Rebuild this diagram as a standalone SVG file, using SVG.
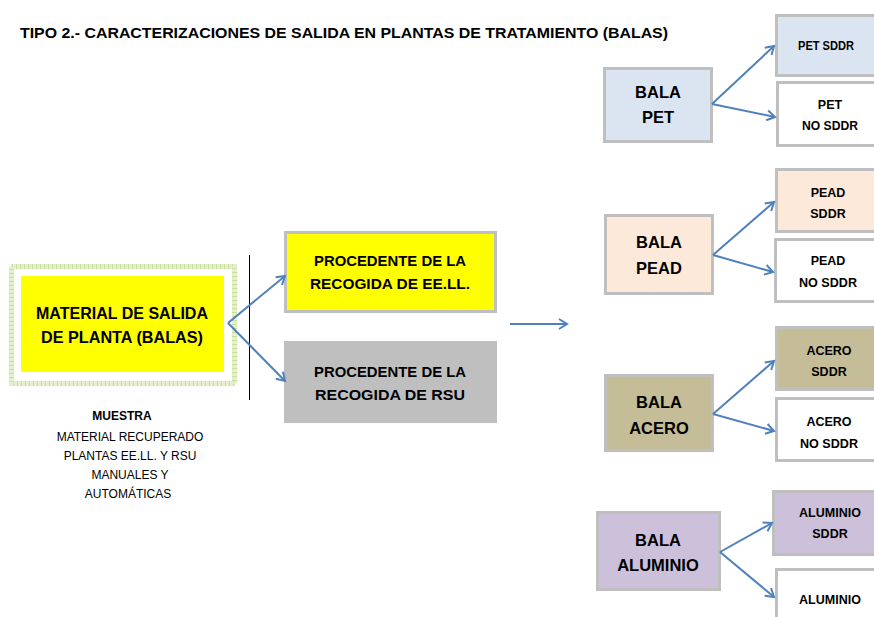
<svg xmlns="http://www.w3.org/2000/svg" width="874" height="617" viewBox="0 0 874 617">
<style>
text{font-family:"Liberation Sans",Arial,sans-serif;font-weight:bold;fill:#000;text-anchor:middle}
.box{stroke:#bfbfbf;stroke-width:3}
.big{font-size:16.5px}
.mid{font-size:15.5px}
.sm{font-size:12.5px}
.conn{stroke:#4f81bd;stroke-width:2;fill:none;marker-end:url(#ah)}
.note{font-size:12px;font-weight:normal}
</style>
<defs>
<marker id="ah" markerWidth="12" markerHeight="12" refX="9" refY="6" orient="auto" markerUnits="userSpaceOnUse">
<polyline points="1,1 9,6 1,11" fill="none" stroke="#4f81bd" stroke-width="2"/>
</marker>
</defs>
<rect width="874" height="617" fill="#fff"/>
<text x="20" y="38" style="text-anchor:start;font-size:15px" textLength="648" lengthAdjust="spacingAndGlyphs">TIPO 2.- CARACTERIZACIONES DE SALIDA EN PLANTAS DE TRATAMIENTO (BALAS)</text>

<g id="material">
<rect x="11.5" y="266.5" width="223" height="117" fill="none" stroke="#c9de9c" stroke-width="5" stroke-dasharray="2 2"/>
<rect x="11.5" y="266.5" width="223" height="117" fill="none" stroke="#e4efcc" stroke-width="5" stroke-dasharray="2 2" stroke-dashoffset="2"/>
<rect x="21" y="276" width="203" height="96" fill="#ffff00"/>
<text class="big" x="122" y="319" textLength="172" lengthAdjust="spacingAndGlyphs">MATERIAL DE SALIDA</text>
<text class="big" x="122" y="343" textLength="162" lengthAdjust="spacingAndGlyphs">DE PLANTA (BALAS)</text>
</g>
<g id="muestra">
<text x="122" y="420" style="font-size:12px">MUESTRA</text>
<text class="note" x="130" y="441">MATERIAL RECUPERADO</text>
<text class="note" x="130" y="460">PLANTAS EE.LL. Y RSU</text>
<text class="note" x="130" y="479">MANUALES Y</text>
<text class="note" x="128" y="498">AUTOMÁTICAS</text>
</g>
<g id="separator"><line x1="249.5" y1="255" x2="249.5" y2="400" stroke="#000" stroke-width="1"/></g>

<g id="eell">
<rect class="box" x="285.5" y="232.5" width="210" height="79" fill="#ffff00"/>
<text class="mid" x="390" y="266" textLength="152" lengthAdjust="spacingAndGlyphs">PROCEDENTE DE LA</text>
<text class="mid" x="390" y="289" textLength="160" lengthAdjust="spacingAndGlyphs">RECOGIDA DE EE.LL.</text>
</g>
<g id="rsu">
<rect class="box" x="285.5" y="342.5" width="210" height="79" fill="#bfbfbf" stroke="#bfbfbf"/>
<text class="mid" x="390" y="377" textLength="152" lengthAdjust="spacingAndGlyphs">PROCEDENTE DE LA</text>
<text class="mid" x="390" y="400" textLength="150" lengthAdjust="spacingAndGlyphs">RECOGIDA DE RSU</text>
</g>

<g id="bala-pet">
<rect class="box" x="604.5" y="68.5" width="107" height="73" fill="#dbe5f1"/>
<text class="big" x="658" y="98">BALA</text>
<text class="big" x="658" y="123">PET</text>
</g>
<g id="pet-sddr">
<rect class="box" x="776.5" y="15.5" width="100" height="60" fill="#dbe5f1"/>
<text class="sm" x="826" y="50" textLength="56" lengthAdjust="spacingAndGlyphs">PET SDDR</text>
</g>
<g id="pet-no">
<rect class="box" x="777.5" y="82.5" width="100" height="63" fill="#fff"/>
<text class="sm" x="830" y="109">PET</text>
<text class="sm" x="830" y="130" textLength="56" lengthAdjust="spacingAndGlyphs">NO SDDR</text>
</g>

<g id="bala-pead">
<rect class="box" x="605.5" y="215.5" width="107" height="78" fill="#fde9d9"/>
<text class="big" x="659" y="248">BALA</text>
<text class="big" x="659" y="274">PEAD</text>
</g>
<g id="pead-sddr">
<rect class="box" x="776.5" y="169.5" width="100" height="62" fill="#fde9d9"/>
<text class="sm" x="828" y="197">PEAD</text>
<text class="sm" x="828" y="218">SDDR</text>
</g>
<g id="pead-no">
<rect class="box" x="775.5" y="239.5" width="100" height="62" fill="#fff"/>
<text class="sm" x="828" y="265">PEAD</text>
<text class="sm" x="828" y="287" textLength="58" lengthAdjust="spacingAndGlyphs">NO SDDR</text>
</g>

<g id="bala-acero">
<rect class="box" x="605.5" y="375.5" width="107" height="75" fill="#c4bd97"/>
<text class="big" x="659" y="408">BALA</text>
<text class="big" x="659" y="434">ACERO</text>
</g>
<g id="acero-sddr">
<rect class="box" x="776.5" y="327.5" width="100" height="62" fill="#c4bd97"/>
<text class="sm" x="829" y="355">ACERO</text>
<text class="sm" x="829" y="376">SDDR</text>
</g>
<g id="acero-no">
<rect class="box" x="776.5" y="398.5" width="100" height="62" fill="#fff"/>
<text class="sm" x="829" y="426">ACERO</text>
<text class="sm" x="829" y="448" textLength="58" lengthAdjust="spacingAndGlyphs">NO SDDR</text>
</g>

<g id="bala-aluminio">
<rect class="box" x="597.5" y="512.5" width="122" height="77" fill="#ccc0da"/>
<text class="big" x="658" y="546">BALA</text>
<text class="big" x="658" y="571">ALUMINIO</text>
</g>
<g id="aluminio-sddr">
<rect class="box" x="773.5" y="491.5" width="102" height="63" fill="#ccc0da"/>
<text class="sm" x="830" y="517">ALUMINIO</text>
<text class="sm" x="830" y="538">SDDR</text>
</g>
<g id="aluminio-no">
<rect class="box" x="776.5" y="569.5" width="100" height="60" fill="#fff"/>
<text class="sm" x="830" y="604">ALUMINIO</text>
</g>

<g id="connectors">
<line class="conn" x1="228" y1="323" x2="285" y2="276"/>
<line class="conn" x1="228" y1="323" x2="285" y2="381"/>
<line class="conn" x1="510" y1="324" x2="567" y2="324"/>
<line class="conn" x1="712" y1="104" x2="774" y2="46"/>
<line class="conn" x1="712" y1="104" x2="775" y2="117"/>
<line class="conn" x1="713" y1="255" x2="774" y2="202"/>
<line class="conn" x1="713" y1="255" x2="773" y2="272"/>
<line class="conn" x1="713" y1="414" x2="774" y2="361"/>
<line class="conn" x1="713" y1="414" x2="774" y2="431"/>
<line class="conn" x1="720" y1="552" x2="772" y2="523"/>
<line class="conn" x1="720" y1="552" x2="774" y2="597"/>
</g>
</svg>
